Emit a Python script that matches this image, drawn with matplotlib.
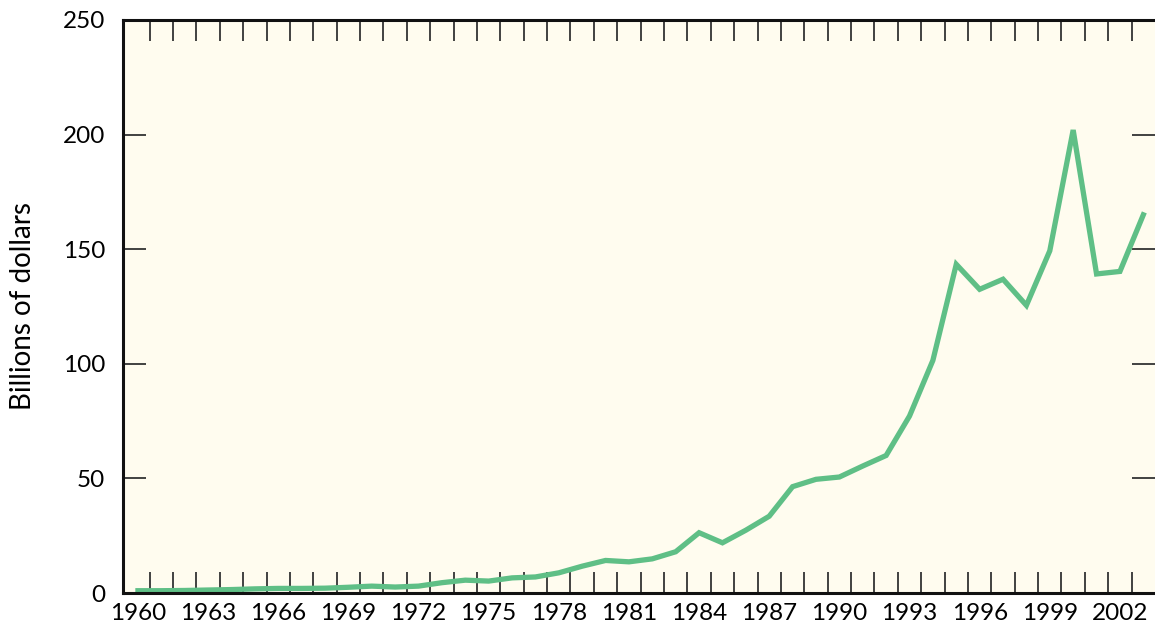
import numpy as np
import matplotlib
matplotlib.use("Agg")
import matplotlib.pyplot as plt
from matplotlib.ticker import FixedLocator

plt.rcParams['font.family'] = ['Lato', 'DejaVu Sans']

years = np.arange(1960, 2004)
billions = [1.0, 1.0, 1.1, 1.3, 1.5, 1.8, 2.0, 2.0, 2.1, 2.5,
            3.0, 2.6, 3.0, 4.5, 5.6, 5.2, 6.6, 7.0, 8.8, 11.7,
            14.2, 13.6, 14.9, 18.0, 26.3, 21.9, 27.4, 33.5, 46.4, 49.6,
            50.6, 55.4, 60.0, 77.2, 101.5, 143.4, 132.5, 136.9, 125.5, 149.3,
            202.0, 139.2, 140.3, 165.0]

year_labels = np.arange(1960, 2003, 3)
value_ticks = [0, 50, 100, 150, 200, 250]

fig = plt.figure(figsize=(11.55, 6.33), dpi=100)
ax = fig.add_axes([123/1155, 40/633, 1 - 123/1155, 573/633])
ax.set_facecolor('#FFFCEF')

ax.plot(years, billions, color='#5FBF86', linewidth=3.8, solid_joinstyle='miter')

ax.set_xlim(1959.36, 2003.5)
ax.set_ylim(0, 250)

# year labels sit on the data points, tick marks fall between years
ax.set_xticks(year_labels)
ax.set_xticklabels([str(y) for y in year_labels])
ax.xaxis.set_minor_locator(FixedLocator(np.arange(1960.5, 2003, 1.0)))
ax.tick_params(axis='x', which='major', length=0, pad=7, labelsize=17.5)
ax.tick_params(axis='x', which='minor', direction='in', length=15, width=1.3,
               color='#333333', top=True, bottom=True)

ax.set_yticks(value_ticks)
ax.tick_params(axis='y', which='major', direction='in', length=16.5, width=1.3,
               color='#333333', left=True, right=True, pad=13, labelsize=17.5)

for side in ['left', 'top', 'bottom']:
    ax.spines[side].set_linewidth(2.2)
    ax.spines[side].set_color('#111111')
ax.spines['right'].set_visible(False)

ax.set_ylabel('Billions of dollars', fontsize=20)
ax.yaxis.set_label_coords(-0.084, 0.5)

fig.savefig('out.png', dpi=100)
